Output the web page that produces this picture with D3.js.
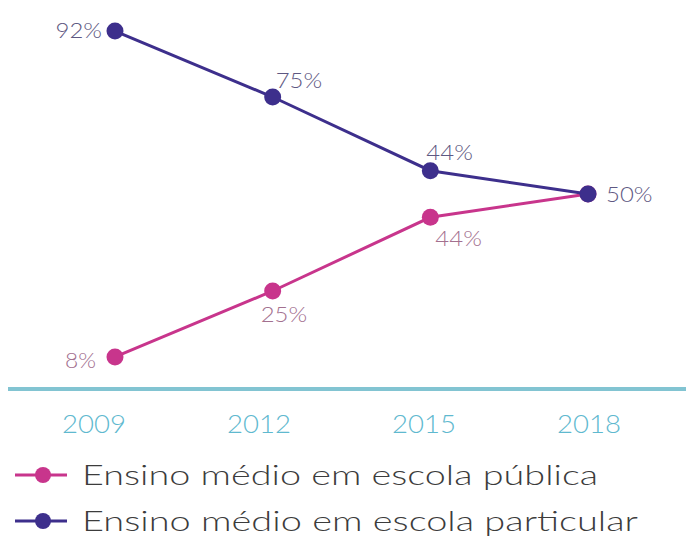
<!DOCTYPE html>
<html>
<head>
<meta charset="utf-8">
<script src="https://cdn.jsdelivr.net/npm/d3@7"></script>
<style>
  body { margin: 0; background: #fff; }
  svg { display: block; font-family: Lato, "Open Sans", sans-serif; }
</style>
</head>
<body>
<div id="chart"></div>
<script>
const width = 686;
const height = 536;

// data
const years = [2009, 2012, 2015, 2018];
const publica = [8, 25, 44, 50];
const particular = [92, 75, 56, 50];   // plotted position (label says 44% at 2015)
const publicaLabels = ["8%", "25%", "44%", "50%"];
const particularLabels = ["92%", "75%", "44%", "50%"];
const seriesNames = ["Ensino médio em escola pública", "Ensino médio em escola particular"];

const pink = "#c8358c";
const purple = "#3d2f8c";

const svg = d3.select("#chart").append("svg")
  .attr("width", width)
  .attr("height", height);

const x = d3.scalePoint().domain(years).range([115, 588]);
const xTick = d3.scalePoint().domain(years).range([94, 589]);
const y = d3.scaleLinear().domain([0, 100]).range([388, 0]);

// baseline axis
svg.append("line")
  .attr("x1", 8).attr("x2", width)
  .attr("y1", y(0) + 1).attr("y2", y(0) + 1)
  .attr("stroke", "#82c4d2")
  .attr("stroke-width", 4);

svg.append("g")
  .selectAll("text")
  .data(years)
  .join("text")
    .attr("x", d => xTick(d))
    .attr("y", 433)
    .attr("text-anchor", "middle")
    .attr("font-size", 26)
    .attr("font-weight", 300)
    .attr("fill", "#5fb9cf")
    .attr("textLength", 64)
    .attr("lengthAdjust", "spacingAndGlyphs")
    .text(d => d);

let line = d3.line()
  .x(d => x(d.year))
  .y(d => y(d.value));

const series = [
  { name: seriesNames[0], color: pink, labelColor: "#a3708f",
    points: years.map((yr, i) => ({ year: yr, value: publica[i], label: publicaLabels[i] })) },
  { name: seriesNames[1], color: purple, labelColor: "#5e5882",
    points: years.map((yr, i) => ({ year: yr, value: particular[i], label: particularLabels[i] })) }
];

series.forEach(s => {
  svg.append("path")
    .datum(s.points)
    .attr("d", line)
    .attr("fill", "none")
    .attr("stroke", s.color)
    .attr("stroke-width", 3);

  svg.append("g")
    .selectAll("circle")
    .data(s.points)
    .join("circle")
      .attr("cx", d => x(d.year))
      .attr("cy", d => y(d.value))
      .attr("r", 8.5)
      .attr("fill", s.color);
});

// value labels: offsets relative to each point
const pinkOffsets = [
  { dx: -19, dy: 11, anchor: "end" },
  { dx: -12, dy: 31, anchor: "start" },
  { dx: 5, dy: 29, anchor: "start" },
  null
];
const purpleOffsets = [
  { dx: -13, dy: 7, anchor: "end" },
  { dx: 3, dy: -9, anchor: "start" },
  { dx: -4, dy: -11, anchor: "start" },
  { dx: 18, dy: 8, anchor: "start" }
];

function drawLabels(s, offsets, color) {
  svg.append("g")
    .selectAll("text")
    .data(s.points.map((p, i) => ({ p: p, o: offsets[i] })).filter(d => d.o))
    .join("text")
      .attr("x", d => x(d.p.year) + d.o.dx)
      .attr("y", d => y(d.p.value) + d.o.dy)
      .attr("text-anchor", d => d.o.anchor)
      .attr("font-size", 22)
      .attr("font-weight", 300)
      .attr("fill", color)
      .attr("textLength", d => d.p.label.length * 15.5)
      .attr("lengthAdjust", "spacingAndGlyphs")
      .text(d => d.p.label);
}
drawLabels(series[0], pinkOffsets, series[0].labelColor);
drawLabels(series[1], purpleOffsets, series[1].labelColor);

// legend
const legend = svg.append("g")
  .selectAll("g")
  .data(series)
  .join("g")
    .attr("transform", (d, i) => `translate(0, ${475 + i * 46})`);

legend.append("line")
  .attr("x1", 15).attr("x2", 67)
  .attr("stroke", d => d.color)
  .attr("stroke-width", 3);

legend.append("circle")
  .attr("cx", 43)
  .attr("r", 8)
  .attr("fill", d => d.color);

const legendWidths = [516, 556];
legend.append("text")
  .attr("x", 82)
  .attr("y", 10)
  .attr("font-size", 27)
  .attr("font-weight", 300)
  .attr("fill", "#3c3c3c")
  .attr("textLength", (d, i) => legendWidths[i])
  .attr("lengthAdjust", "spacingAndGlyphs")
  .text(d => d.name);
</script>
</body>
</html>
